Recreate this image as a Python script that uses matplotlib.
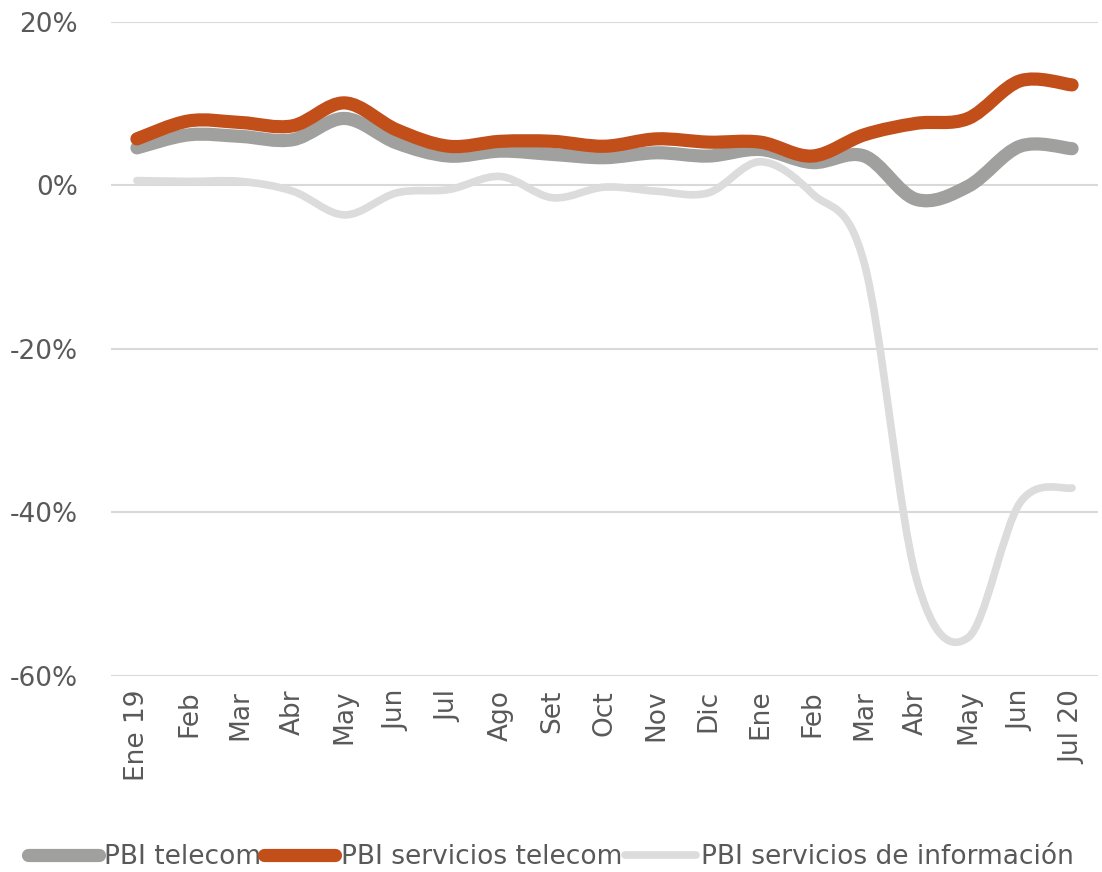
import matplotlib.pyplot as plt
from matplotlib.path import Path
from matplotlib.patches import PathPatch
from matplotlib.lines import Line2D
import numpy as np

# Datos (% de variación)
meses = ['Ene 19', 'Feb', 'Mar', 'Abr', 'May', 'Jun', 'Jul', 'Ago', 'Set', 'Oct',
         'Nov', 'Dic', 'Ene', 'Feb', 'Mar', 'Abr', 'May', 'Jun', 'Jul 20']
pbi_telecom = [4.6, 6.2, 6.0, 5.6, 8.2, 5.2, 3.6, 4.2, 3.8, 3.4,
               4.0, 3.6, 4.4, 2.8, 3.6, -1.7, -0.1, 4.8, 4.5]
pbi_serv_telecom = [5.7, 7.9, 7.7, 7.3, 10.1, 6.8, 4.8, 5.4, 5.4, 4.8,
                    5.7, 5.3, 5.3, 3.6, 6.2, 7.6, 8.2, 12.8, 12.3]
pbi_serv_info = [0.6, 0.5, 0.5, -0.7, -3.6, -0.9, -0.5, 1.1, -1.5, -0.2,
                 -0.7, -0.9, 2.9, -1.0, -9.5, -48.0, -55.3, -38.8, -37.0]

series = [
    ('PBI telecom', pbi_telecom, '#a0a09e', 9.5),
    ('PBI servicios telecom', pbi_serv_telecom, '#c24e1a', 9.5),
    ('PBI servicios de información', pbi_serv_info, '#dcdcdc', 5.5),
]


# Curva suavizada tipo Excel (Catmull-Rom -> Bezier)
def curva_suave(x, y):
    pts = np.column_stack([x, y]).astype(float)
    verts = [pts[0]]
    codes = [Path.MOVETO]
    n = len(pts)
    for i in range(n - 1):
        p0 = pts[max(i - 1, 0)]
        p1 = pts[i]
        p2 = pts[i + 1]
        p3 = pts[min(i + 2, n - 1)]
        c1 = p1 + (p2 - p0) / 6
        c2 = p2 - (p3 - p1) / 6
        verts += [c1, c2, p2]
        codes += [Path.CURVE4] * 3
    return Path(verts, codes)


plt.rcParams['font.family'] = 'DejaVu Sans'
fig = plt.figure(figsize=(11.02, 8.72), dpi=100)
ax = fig.add_axes([0.1007, 0.2248, 0.8957, 0.75])

x = np.arange(len(meses))
for nombre, valores, color, lw in series:
    patch = PathPatch(curva_suave(x, valores), fill=False, edgecolor=color,
                      linewidth=lw, capstyle='round', joinstyle='round', zorder=3)
    ax.add_patch(patch)

ax.set_xlim(-0.5, len(meses) - 0.5)
ax.set_ylim(-60, 20)
ax.set_yticks([-60, -40, -20, 0, 20])
ax.set_yticklabels([f'{v}%' for v in [-60, -40, -20, 0, 20]])
ax.set_xticks(x)
ax.set_xticklabels(meses, rotation=90)
ax.tick_params(axis='both', length=0, labelsize=19, colors='#595959')
ax.tick_params(axis='x', pad=10)
ax.tick_params(axis='y', pad=24)
ax.grid(axis='y', color='#d9d9d9', linewidth=1.5)
ax.set_axisbelow(True)
for s in ax.spines.values():
    s.set_visible(False)

handles = [Line2D([], [], color=c, linewidth=lw, solid_capstyle='round')
           for _, _, c, lw in series]
fig.legend(handles, [s[0] for s in series], loc='center', bbox_to_anchor=(0.5, 0.017),
           ncol=3, frameon=False, fontsize=19, handlelength=2.7, handletextpad=0.2,
           columnspacing=0.1, labelcolor='#595959')

plt.savefig('out.png', dpi=100)
